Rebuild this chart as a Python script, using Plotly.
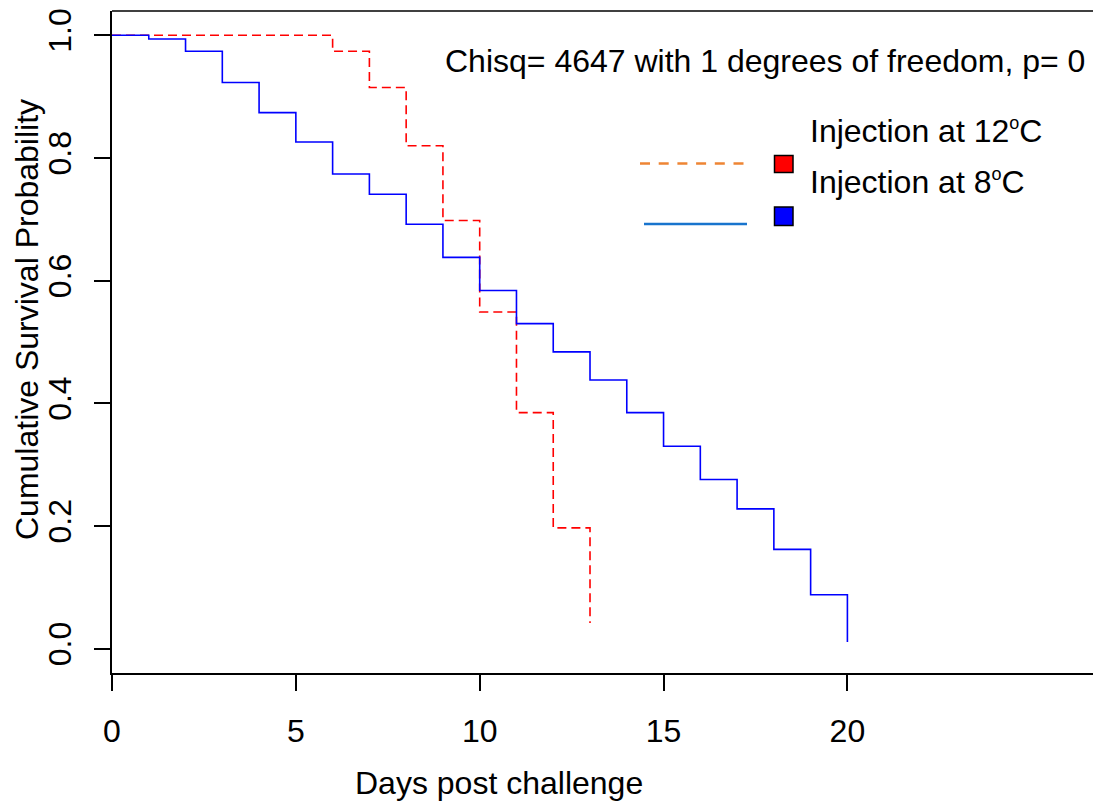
import plotly.graph_objects as go

# ---- data ----
days_8C = list(range(0, 21))
surv_8C = [1.0, 0.994, 0.974, 0.923, 0.874, 0.826, 0.774, 0.741, 0.692, 0.638,
           0.584, 0.530, 0.484, 0.438, 0.385, 0.330, 0.276, 0.228, 0.162, 0.088, 0.011]
days_12C = list(range(0, 14))
surv_12C = [1.0, 1.0, 1.0, 1.0, 1.0, 1.0, 0.974, 0.915, 0.820, 0.698, 0.549, 0.385, 0.197, 0.042]

x_ticks = [0, 5, 10, 15, 20]
y_ticks = [0.0, 0.2, 0.4, 0.6, 0.8, 1.0]
y_tick_labels = ["0.0", "0.2", "0.4", "0.6", "0.8", "1.0"]
SUP_O = '<sup><span style="font-size:18px">o</span></sup>'
series_names = ["Injection at 12" + SUP_O + "C", "Injection at 8" + SUP_O + "C"]
stat_text = "Chisq= 4647 with 1 degrees of freedom, p= 0"

# ---- layout geometry (pixels) ----
W, H = 1093, 804
L, R, T, B = 112, 0, 11, 131
PW, PH = W - L - R, H - T - B


def px(x):
    return (x - L) / PW


def py(y):
    return (H - B - y) / PH


FONT = "Liberation Sans, Arial, Helvetica, sans-serif"
FS = 32

fig = go.Figure()
fig.add_trace(go.Scatter(x=days_12C, y=surv_12C, mode="lines", line_shape="hv",
                         line=dict(color="#FF0000", width=1.6, dash="9px,5px"),
                         showlegend=False))
fig.add_trace(go.Scatter(x=days_8C, y=surv_8C, mode="lines", line_shape="hv",
                         line=dict(color="#0000FF", width=1.6),
                         showlegend=False))

shapes = [
    dict(type="line", xref="paper", yref="paper", x0=0, x1=1, y0=1, y1=1,
         line=dict(color="black", width=1.5)),
    dict(type="line", xref="paper", yref="paper", x0=px(640), x1=px(745), y0=py(163.5), y1=py(163.5),
         line=dict(color="#EE8534", width=2.4, dash="10px,8.7px")),
    dict(type="line", xref="paper", yref="paper", x0=px(644), x1=px(747), y0=py(224), y1=py(224),
         line=dict(color="#1874CD", width=2.4)),
    dict(type="rect", xref="paper", yref="paper", x0=px(774.5), x1=px(793), y0=py(172.5), y1=py(155.5),
         fillcolor="#FF0000", line=dict(color="black", width=1.5)),
    dict(type="rect", xref="paper", yref="paper", x0=px(774.5), x1=px(793), y0=py(225.5), y1=py(207),
         fillcolor="#0000FF", line=dict(color="black", width=1.5)),
]

annotations = [
    dict(text=stat_text, xref="paper", yref="paper", x=px(1087), y=py(61),
         xanchor="right", yanchor="middle", showarrow=False, font=dict(size=FS, color="black", family=FONT)),
    dict(text=series_names[0], xref="paper", yref="paper", x=px(808), y=py(131),
         xanchor="left", yanchor="middle", showarrow=False, font=dict(size=FS, color="black", family=FONT)),
    dict(text=series_names[1], xref="paper", yref="paper", x=px(808), y=py(182),
         xanchor="left", yanchor="middle", showarrow=False, font=dict(size=FS, color="black", family=FONT)),
    dict(text="Days post challenge", xref="paper", yref="paper", x=px(499), y=py(783),
         xanchor="center", yanchor="middle", showarrow=False, font=dict(size=FS, color="black", family=FONT)),
    dict(text="Cumulative Survival Probability", xref="paper", yref="paper", x=px(27), y=py(320),
         xanchor="center", yanchor="middle", textangle=-90, showarrow=False,
         font=dict(size=FS, color="black", family=FONT)),
]

fig.update_layout(
    width=W, height=H,
    margin=dict(l=L, r=R, t=T, b=B, pad=0),
    paper_bgcolor="white", plot_bgcolor="white",
    font=dict(family=FONT, size=FS, color="black"),
    shapes=shapes, annotations=annotations,
    showlegend=False,
)
fig.update_xaxes(range=[0, (W - L - R) / 36.77], tickmode="array", tickvals=x_ticks,
                 ticks="outside", ticklen=16, tickwidth=1.5, tickcolor="black",
                 showline=True, linecolor="black", linewidth=1.5, showgrid=False, zeroline=False,
                 ticklabelstandoff=13, tickfont=dict(size=FS, color="black", family=FONT))
fig.update_yaxes(range=[-0.0395, 1.0396], tickmode="array", tickvals=y_ticks, ticktext=y_tick_labels,
                 ticks="outside", ticklen=16, tickwidth=1.5, tickcolor="black", tickangle=-90,
                 showline=True, linecolor="black", linewidth=1.5, showgrid=False, zeroline=False,
                 ticklabelstandoff=10, tickfont=dict(size=FS, color="black", family=FONT))

fig.write_html("out.html", config={"displayModeBar": False})

# remove the browser's default body margin so the figure sits at the page origin
with open("out.html", "r", encoding="utf-8") as f:
    html = f.read()
html = html.replace("<head>", "<head><style>html,body{margin:0;padding:0;overflow:hidden;}</style>", 1)
with open("out.html", "w", encoding="utf-8") as f:
    f.write(html)
